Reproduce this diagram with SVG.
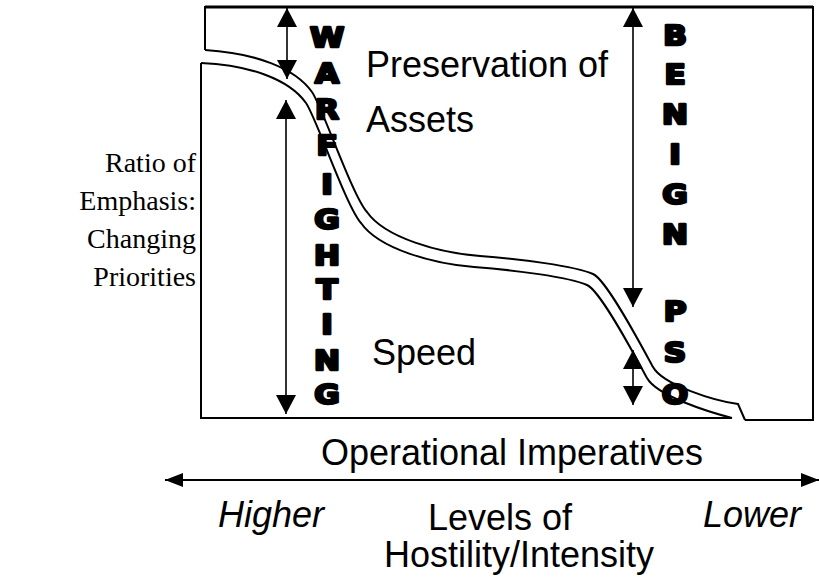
<svg xmlns="http://www.w3.org/2000/svg" width="819" height="577" viewBox="0 0 819 577">
<defs>
<marker id="ah" markerUnits="userSpaceOnUse" markerWidth="20" markerHeight="20" refX="19" refY="10" orient="auto-start-reverse">
<path d="M0,0 L19,10 L0,20 Z" fill="#000"/>
</marker>
<marker id="ah2" markerUnits="userSpaceOnUse" markerWidth="18" markerHeight="14" refX="18" refY="7" orient="auto-start-reverse">
<path d="M0,0 L18,7 L0,14 Z" fill="#000"/>
</marker>
</defs>
<style>
.ln{fill:none;stroke:#000;stroke-width:2}
.arr{fill:none;stroke:#000;stroke-width:1.6;marker-start:url(#ah);marker-end:url(#ah)}
.sans{font-family:"Liberation Sans",Arial,sans-serif;font-size:36px;fill:#000}
.serif{font-family:"Liberation Serif","Times New Roman",serif;font-size:28px;fill:#000;text-anchor:end}
.heavy{font-family:"DejaVu Sans",sans-serif;font-weight:bold;font-size:27px;fill:#000;stroke:#000;stroke-width:2.6;stroke-linejoin:round;text-anchor:middle}
</style>
<rect width="819" height="577" fill="#fff"/>
<g id="frame">
<path class="ln" d="M205,50 L205,7 L813,7 L813,420 L745,420"/>
<line x1="205" y1="7" x2="813" y2="7" stroke="#000" stroke-width="2.8"/>
<path class="ln" d="M201,63 L201,418 L732,418"/>
</g>
<g id="curve">
<path class="ln" d="M205,50 C255,53 295,68 312,92 C322,106 352,195 367,212 C385,238 440,253 480,256 C520,259 575,266 593,274 C607,280 643,349 653,367 C663,385 715,401 738,404 L745,420"/>
<path class="ln" d="M201,63 C249,65 289,79 306,103 C316,117 346,206 361,223 C379,249 434,264 474,267 C514,270 569,277 587,285 C601,291 637,360 647,378 C657,396 709,412 732,418"/>
</g>
<g id="connectors">
<line class="arr" x1="287" y1="8" x2="287" y2="79"/>
<line class="arr" x1="286" y1="100" x2="286" y2="414"/>
<line class="arr" x1="633" y1="8" x2="633" y2="307"/>
<line class="arr" x1="633" y1="350" x2="633" y2="405"/>
<line style="fill:none;stroke:#000;stroke-width:2;marker-start:url(#ah2);marker-end:url(#ah2)" x1="165" y1="480" x2="819" y2="480"/>
</g>
<g id="warfighting" transform="translate(327 0) scale(1.15 1)">
<text class="heavy" x="0" y="47">W</text>
<text class="heavy" x="0" y="83">A</text>
<text class="heavy" x="0" y="119">R</text>
<text class="heavy" x="0" y="155">F</text>
<text class="heavy" x="0" y="194">I</text>
<text class="heavy" x="0" y="229">G</text>
<text class="heavy" x="0" y="265">H</text>
<text class="heavy" x="0" y="299">T</text>
<text class="heavy" x="0" y="334">I</text>
<text class="heavy" x="0" y="370">N</text>
<text class="heavy" x="0" y="404">G</text>
</g>
<g id="benign-pso" transform="translate(675 0) scale(1.15 1)">
<text class="heavy" x="0" y="45">B</text>
<text class="heavy" x="0" y="84">E</text>
<text class="heavy" x="0" y="124">N</text>
<text class="heavy" x="0" y="164">I</text>
<text class="heavy" x="0" y="204">G</text>
<text class="heavy" x="0" y="244">N</text>
<text class="heavy" x="0" y="321">P</text>
<text class="heavy" x="0" y="362">S</text>
<text class="heavy" x="0" y="404">O</text>
</g>
<g id="preservation">
<text class="sans" x="366" y="77">Preservation of</text>
<text class="sans" x="366" y="132">Assets</text>
</g>
<g id="speed">
<text class="sans" x="372" y="365">Speed</text>
</g>
<g id="ratio">
<text class="serif" x="196" y="172">Ratio of</text>
<text class="serif" x="196" y="210">Emphasis:</text>
<text class="serif" x="196" y="248">Changing</text>
<text class="serif" x="196" y="286">Priorities</text>
</g>
<g id="axis-labels">
<text class="sans" x="512" y="465" text-anchor="middle">Operational Imperatives</text>
<text class="sans" x="218" y="527" font-style="italic">Higher</text>
<text class="sans" x="500" y="530" text-anchor="middle">Levels of</text>
<text class="sans" x="801" y="527" font-style="italic" text-anchor="end">Lower</text>
<text class="sans" x="519" y="567" text-anchor="middle">Hostility/Intensity</text>
</g>
</svg>
